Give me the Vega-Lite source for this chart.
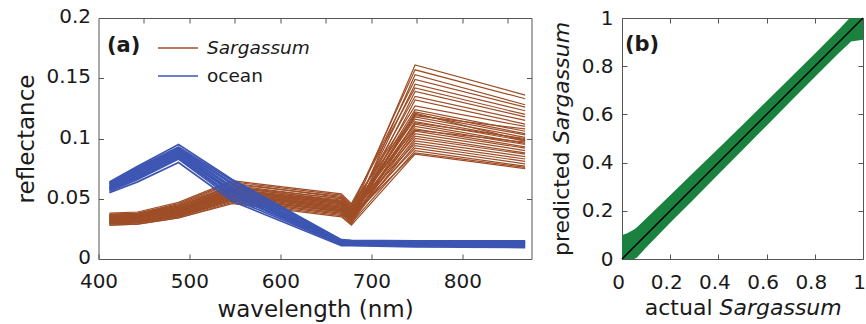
{
  "$schema": "https://vega.github.io/schema/vega-lite/v6.json",
  "padding": {"left": 14.5, "top": 6, "right": 0, "bottom": 0},
  "background": "white",
  "config": {
    "font": "DejaVu Sans",
    "view": {"stroke": "#555555", "strokeWidth": 1},
    "axis": {"grid": false, "domain": false, "tickColor": "#555555", "tickSize": -5, "tickWidth": 1, "labelFont": "DejaVu Sans", "labelFontSize": 20, "labelColor": "#1a1a1a", "titleFont": "DejaVu Sans", "titleColor": "#1a1a1a", "titleFontWeight": "normal", "titleFontSize": 23, "labelFlush": false, "labelOverlap": false, "labelBound": false},
    "text": {"font": "DejaVu Sans", "color": "#1a1a1a"}
  },
  "datasets": {
    "spectra": [
      {"c":"Sargassum","id":"s1","w":412,"r":0.033},{"c":"Sargassum","id":"s1","w":443,"r":0.034},{"c":"Sargassum","id":"s1","w":488,"r":0.040},{"c":"Sargassum","id":"s1","w":547,"r":0.056},{"c":"Sargassum","id":"s1","w":667,"r":0.046},{"c":"Sargassum","id":"s1","w":678,"r":0.038},{"c":"Sargassum","id":"s1","w":748,"r":0.161},{"c":"Sargassum","id":"s1","w":869,"r":0.136},
      {"c":"Sargassum","id":"s2","w":412,"r":0.036},{"c":"Sargassum","id":"s2","w":443,"r":0.037},{"c":"Sargassum","id":"s2","w":488,"r":0.044},{"c":"Sargassum","id":"s2","w":547,"r":0.060},{"c":"Sargassum","id":"s2","w":667,"r":0.050},{"c":"Sargassum","id":"s2","w":678,"r":0.042},{"c":"Sargassum","id":"s2","w":748,"r":0.157},{"c":"Sargassum","id":"s2","w":869,"r":0.133},
      {"c":"Sargassum","id":"s3","w":412,"r":0.030},{"c":"Sargassum","id":"s3","w":443,"r":0.031},{"c":"Sargassum","id":"s3","w":488,"r":0.037},{"c":"Sargassum","id":"s3","w":547,"r":0.052},{"c":"Sargassum","id":"s3","w":667,"r":0.041},{"c":"Sargassum","id":"s3","w":678,"r":0.034},{"c":"Sargassum","id":"s3","w":748,"r":0.153},{"c":"Sargassum","id":"s3","w":869,"r":0.128},
      {"c":"Sargassum","id":"s4","w":412,"r":0.035},{"c":"Sargassum","id":"s4","w":443,"r":0.036},{"c":"Sargassum","id":"s4","w":488,"r":0.043},{"c":"Sargassum","id":"s4","w":547,"r":0.062},{"c":"Sargassum","id":"s4","w":667,"r":0.052},{"c":"Sargassum","id":"s4","w":678,"r":0.044},{"c":"Sargassum","id":"s4","w":748,"r":0.149},{"c":"Sargassum","id":"s4","w":869,"r":0.126},
      {"c":"Sargassum","id":"s5","w":412,"r":0.032},{"c":"Sargassum","id":"s5","w":443,"r":0.033},{"c":"Sargassum","id":"s5","w":488,"r":0.039},{"c":"Sargassum","id":"s5","w":547,"r":0.054},{"c":"Sargassum","id":"s5","w":667,"r":0.044},{"c":"Sargassum","id":"s5","w":678,"r":0.036},{"c":"Sargassum","id":"s5","w":748,"r":0.145},{"c":"Sargassum","id":"s5","w":869,"r":0.123},
      {"c":"Sargassum","id":"s6","w":412,"r":0.038},{"c":"Sargassum","id":"s6","w":443,"r":0.039},{"c":"Sargassum","id":"s6","w":488,"r":0.047},{"c":"Sargassum","id":"s6","w":547,"r":0.065},{"c":"Sargassum","id":"s6","w":667,"r":0.054},{"c":"Sargassum","id":"s6","w":678,"r":0.046},{"c":"Sargassum","id":"s6","w":748,"r":0.142},{"c":"Sargassum","id":"s6","w":869,"r":0.120},
      {"c":"Sargassum","id":"s7","w":412,"r":0.031},{"c":"Sargassum","id":"s7","w":443,"r":0.032},{"c":"Sargassum","id":"s7","w":488,"r":0.038},{"c":"Sargassum","id":"s7","w":547,"r":0.050},{"c":"Sargassum","id":"s7","w":667,"r":0.040},{"c":"Sargassum","id":"s7","w":678,"r":0.033},{"c":"Sargassum","id":"s7","w":748,"r":0.139},{"c":"Sargassum","id":"s7","w":869,"r":0.118},
      {"c":"Sargassum","id":"s8","w":412,"r":0.034},{"c":"Sargassum","id":"s8","w":443,"r":0.035},{"c":"Sargassum","id":"s8","w":488,"r":0.042},{"c":"Sargassum","id":"s8","w":547,"r":0.058},{"c":"Sargassum","id":"s8","w":667,"r":0.048},{"c":"Sargassum","id":"s8","w":678,"r":0.040},{"c":"Sargassum","id":"s8","w":748,"r":0.135},{"c":"Sargassum","id":"s8","w":869,"r":0.115},
      {"c":"Sargassum","id":"s9","w":412,"r":0.029},{"c":"Sargassum","id":"s9","w":443,"r":0.030},{"c":"Sargassum","id":"s9","w":488,"r":0.035},{"c":"Sargassum","id":"s9","w":547,"r":0.048},{"c":"Sargassum","id":"s9","w":667,"r":0.037},{"c":"Sargassum","id":"s9","w":678,"r":0.031},{"c":"Sargassum","id":"s9","w":748,"r":0.132},{"c":"Sargassum","id":"s9","w":869,"r":0.112},
      {"c":"Sargassum","id":"s10","w":412,"r":0.036},{"c":"Sargassum","id":"s10","w":443,"r":0.037},{"c":"Sargassum","id":"s10","w":488,"r":0.045},{"c":"Sargassum","id":"s10","w":547,"r":0.063},{"c":"Sargassum","id":"s10","w":667,"r":0.051},{"c":"Sargassum","id":"s10","w":678,"r":0.043},{"c":"Sargassum","id":"s10","w":748,"r":0.127},{"c":"Sargassum","id":"s10","w":869,"r":0.110},
      {"c":"Sargassum","id":"s11","w":412,"r":0.033},{"c":"Sargassum","id":"s11","w":443,"r":0.034},{"c":"Sargassum","id":"s11","w":488,"r":0.041},{"c":"Sargassum","id":"s11","w":547,"r":0.057},{"c":"Sargassum","id":"s11","w":667,"r":0.047},{"c":"Sargassum","id":"s11","w":678,"r":0.039},{"c":"Sargassum","id":"s11","w":748,"r":0.124},{"c":"Sargassum","id":"s11","w":869,"r":0.106},
      {"c":"Sargassum","id":"s12","w":412,"r":0.030},{"c":"Sargassum","id":"s12","w":443,"r":0.031},{"c":"Sargassum","id":"s12","w":488,"r":0.036},{"c":"Sargassum","id":"s12","w":547,"r":0.051},{"c":"Sargassum","id":"s12","w":667,"r":0.039},{"c":"Sargassum","id":"s12","w":678,"r":0.032},{"c":"Sargassum","id":"s12","w":748,"r":0.122},{"c":"Sargassum","id":"s12","w":869,"r":0.104},
      {"c":"Sargassum","id":"s13","w":412,"r":0.037},{"c":"Sargassum","id":"s13","w":443,"r":0.038},{"c":"Sargassum","id":"s13","w":488,"r":0.046},{"c":"Sargassum","id":"s13","w":547,"r":0.064},{"c":"Sargassum","id":"s13","w":667,"r":0.053},{"c":"Sargassum","id":"s13","w":678,"r":0.045},{"c":"Sargassum","id":"s13","w":748,"r":0.120},{"c":"Sargassum","id":"s13","w":869,"r":0.103},
      {"c":"Sargassum","id":"s14","w":412,"r":0.032},{"c":"Sargassum","id":"s14","w":443,"r":0.033},{"c":"Sargassum","id":"s14","w":488,"r":0.040},{"c":"Sargassum","id":"s14","w":547,"r":0.055},{"c":"Sargassum","id":"s14","w":667,"r":0.045},{"c":"Sargassum","id":"s14","w":678,"r":0.037},{"c":"Sargassum","id":"s14","w":748,"r":0.118},{"c":"Sargassum","id":"s14","w":869,"r":0.101},
      {"c":"Sargassum","id":"s15","w":412,"r":0.035},{"c":"Sargassum","id":"s15","w":443,"r":0.036},{"c":"Sargassum","id":"s15","w":488,"r":0.043},{"c":"Sargassum","id":"s15","w":547,"r":0.059},{"c":"Sargassum","id":"s15","w":667,"r":0.049},{"c":"Sargassum","id":"s15","w":678,"r":0.041},{"c":"Sargassum","id":"s15","w":748,"r":0.116},{"c":"Sargassum","id":"s15","w":869,"r":0.099},
      {"c":"Sargassum","id":"s16","w":412,"r":0.028},{"c":"Sargassum","id":"s16","w":443,"r":0.029},{"c":"Sargassum","id":"s16","w":488,"r":0.034},{"c":"Sargassum","id":"s16","w":547,"r":0.047},{"c":"Sargassum","id":"s16","w":667,"r":0.036},{"c":"Sargassum","id":"s16","w":678,"r":0.029},{"c":"Sargassum","id":"s16","w":748,"r":0.114},{"c":"Sargassum","id":"s16","w":869,"r":0.098},
      {"c":"Sargassum","id":"s17","w":412,"r":0.034},{"c":"Sargassum","id":"s17","w":443,"r":0.035},{"c":"Sargassum","id":"s17","w":488,"r":0.042},{"c":"Sargassum","id":"s17","w":547,"r":0.057},{"c":"Sargassum","id":"s17","w":667,"r":0.046},{"c":"Sargassum","id":"s17","w":678,"r":0.038},{"c":"Sargassum","id":"s17","w":748,"r":0.112},{"c":"Sargassum","id":"s17","w":869,"r":0.096},
      {"c":"Sargassum","id":"s18","w":412,"r":0.031},{"c":"Sargassum","id":"s18","w":443,"r":0.032},{"c":"Sargassum","id":"s18","w":488,"r":0.038},{"c":"Sargassum","id":"s18","w":547,"r":0.053},{"c":"Sargassum","id":"s18","w":667,"r":0.042},{"c":"Sargassum","id":"s18","w":678,"r":0.035},{"c":"Sargassum","id":"s18","w":748,"r":0.110},{"c":"Sargassum","id":"s18","w":869,"r":0.095},
      {"c":"Sargassum","id":"s19","w":412,"r":0.037},{"c":"Sargassum","id":"s19","w":443,"r":0.038},{"c":"Sargassum","id":"s19","w":488,"r":0.045},{"c":"Sargassum","id":"s19","w":547,"r":0.061},{"c":"Sargassum","id":"s19","w":667,"r":0.050},{"c":"Sargassum","id":"s19","w":678,"r":0.042},{"c":"Sargassum","id":"s19","w":748,"r":0.108},{"c":"Sargassum","id":"s19","w":869,"r":0.093},
      {"c":"Sargassum","id":"s20","w":412,"r":0.033},{"c":"Sargassum","id":"s20","w":443,"r":0.034},{"c":"Sargassum","id":"s20","w":488,"r":0.040},{"c":"Sargassum","id":"s20","w":547,"r":0.054},{"c":"Sargassum","id":"s20","w":667,"r":0.043},{"c":"Sargassum","id":"s20","w":678,"r":0.036},{"c":"Sargassum","id":"s20","w":748,"r":0.106},{"c":"Sargassum","id":"s20","w":869,"r":0.092},
      {"c":"Sargassum","id":"s21","w":412,"r":0.030},{"c":"Sargassum","id":"s21","w":443,"r":0.031},{"c":"Sargassum","id":"s21","w":488,"r":0.037},{"c":"Sargassum","id":"s21","w":547,"r":0.050},{"c":"Sargassum","id":"s21","w":667,"r":0.039},{"c":"Sargassum","id":"s21","w":678,"r":0.032},{"c":"Sargassum","id":"s21","w":748,"r":0.104},{"c":"Sargassum","id":"s21","w":869,"r":0.090},
      {"c":"Sargassum","id":"s22","w":412,"r":0.035},{"c":"Sargassum","id":"s22","w":443,"r":0.036},{"c":"Sargassum","id":"s22","w":488,"r":0.044},{"c":"Sargassum","id":"s22","w":547,"r":0.060},{"c":"Sargassum","id":"s22","w":667,"r":0.048},{"c":"Sargassum","id":"s22","w":678,"r":0.040},{"c":"Sargassum","id":"s22","w":748,"r":0.102},{"c":"Sargassum","id":"s22","w":869,"r":0.088},
      {"c":"Sargassum","id":"s23","w":412,"r":0.032},{"c":"Sargassum","id":"s23","w":443,"r":0.033},{"c":"Sargassum","id":"s23","w":488,"r":0.039},{"c":"Sargassum","id":"s23","w":547,"r":0.052},{"c":"Sargassum","id":"s23","w":667,"r":0.041},{"c":"Sargassum","id":"s23","w":678,"r":0.034},{"c":"Sargassum","id":"s23","w":748,"r":0.100},{"c":"Sargassum","id":"s23","w":869,"r":0.087},
      {"c":"Sargassum","id":"s24","w":412,"r":0.029},{"c":"Sargassum","id":"s24","w":443,"r":0.030},{"c":"Sargassum","id":"s24","w":488,"r":0.035},{"c":"Sargassum","id":"s24","w":547,"r":0.049},{"c":"Sargassum","id":"s24","w":667,"r":0.038},{"c":"Sargassum","id":"s24","w":678,"r":0.031},{"c":"Sargassum","id":"s24","w":748,"r":0.098},{"c":"Sargassum","id":"s24","w":869,"r":0.085},
      {"c":"Sargassum","id":"s25","w":412,"r":0.036},{"c":"Sargassum","id":"s25","w":443,"r":0.037},{"c":"Sargassum","id":"s25","w":488,"r":0.044},{"c":"Sargassum","id":"s25","w":547,"r":0.058},{"c":"Sargassum","id":"s25","w":667,"r":0.047},{"c":"Sargassum","id":"s25","w":678,"r":0.039},{"c":"Sargassum","id":"s25","w":748,"r":0.096},{"c":"Sargassum","id":"s25","w":869,"r":0.083},
      {"c":"Sargassum","id":"s26","w":412,"r":0.031},{"c":"Sargassum","id":"s26","w":443,"r":0.032},{"c":"Sargassum","id":"s26","w":488,"r":0.038},{"c":"Sargassum","id":"s26","w":547,"r":0.051},{"c":"Sargassum","id":"s26","w":667,"r":0.040},{"c":"Sargassum","id":"s26","w":678,"r":0.033},{"c":"Sargassum","id":"s26","w":748,"r":0.094},{"c":"Sargassum","id":"s26","w":869,"r":0.081},
      {"c":"Sargassum","id":"s27","w":412,"r":0.034},{"c":"Sargassum","id":"s27","w":443,"r":0.035},{"c":"Sargassum","id":"s27","w":488,"r":0.041},{"c":"Sargassum","id":"s27","w":547,"r":0.055},{"c":"Sargassum","id":"s27","w":667,"r":0.044},{"c":"Sargassum","id":"s27","w":678,"r":0.036},{"c":"Sargassum","id":"s27","w":748,"r":0.092},{"c":"Sargassum","id":"s27","w":869,"r":0.079},
      {"c":"Sargassum","id":"s28","w":412,"r":0.030},{"c":"Sargassum","id":"s28","w":443,"r":0.031},{"c":"Sargassum","id":"s28","w":488,"r":0.036},{"c":"Sargassum","id":"s28","w":547,"r":0.049},{"c":"Sargassum","id":"s28","w":667,"r":0.038},{"c":"Sargassum","id":"s28","w":678,"r":0.030},{"c":"Sargassum","id":"s28","w":748,"r":0.090},{"c":"Sargassum","id":"s28","w":869,"r":0.077},
      {"c":"Sargassum","id":"s29","w":412,"r":0.033},{"c":"Sargassum","id":"s29","w":443,"r":0.034},{"c":"Sargassum","id":"s29","w":488,"r":0.040},{"c":"Sargassum","id":"s29","w":547,"r":0.053},{"c":"Sargassum","id":"s29","w":667,"r":0.042},{"c":"Sargassum","id":"s29","w":678,"r":0.035},{"c":"Sargassum","id":"s29","w":748,"r":0.088},{"c":"Sargassum","id":"s29","w":869,"r":0.076},
      {"c":"Sargassum","id":"s30","w":412,"r":0.028},{"c":"Sargassum","id":"s30","w":443,"r":0.029},{"c":"Sargassum","id":"s30","w":488,"r":0.034},{"c":"Sargassum","id":"s30","w":547,"r":0.046},{"c":"Sargassum","id":"s30","w":667,"r":0.035},{"c":"Sargassum","id":"s30","w":678,"r":0.028},{"c":"Sargassum","id":"s30","w":748,"r":0.087},{"c":"Sargassum","id":"s30","w":869,"r":0.075},
      {"c":"Sargassum","id":"s31","w":412,"r":0.032},{"c":"Sargassum","id":"s31","w":443,"r":0.033},{"c":"Sargassum","id":"s31","w":488,"r":0.039},{"c":"Sargassum","id":"s31","w":547,"r":0.053},{"c":"Sargassum","id":"s31","w":667,"r":0.043},{"c":"Sargassum","id":"s31","w":678,"r":0.036},{"c":"Sargassum","id":"s31","w":748,"r":0.119},{"c":"Sargassum","id":"s31","w":869,"r":0.108},
      {"c":"Sargassum","id":"s32","w":412,"r":0.035},{"c":"Sargassum","id":"s32","w":443,"r":0.036},{"c":"Sargassum","id":"s32","w":488,"r":0.042},{"c":"Sargassum","id":"s32","w":547,"r":0.058},{"c":"Sargassum","id":"s32","w":667,"r":0.047},{"c":"Sargassum","id":"s32","w":678,"r":0.039},{"c":"Sargassum","id":"s32","w":748,"r":0.113},{"c":"Sargassum","id":"s32","w":869,"r":0.100},
      {"c":"Sargassum","id":"s33","w":412,"r":0.030},{"c":"Sargassum","id":"s33","w":443,"r":0.031},{"c":"Sargassum","id":"s33","w":488,"r":0.036},{"c":"Sargassum","id":"s33","w":547,"r":0.050},{"c":"Sargassum","id":"s33","w":667,"r":0.040},{"c":"Sargassum","id":"s33","w":678,"r":0.033},{"c":"Sargassum","id":"s33","w":748,"r":0.107},{"c":"Sargassum","id":"s33","w":869,"r":0.097},
      {"c":"Sargassum","id":"s34","w":412,"r":0.034},{"c":"Sargassum","id":"s34","w":443,"r":0.035},{"c":"Sargassum","id":"s34","w":488,"r":0.041},{"c":"Sargassum","id":"s34","w":547,"r":0.056},{"c":"Sargassum","id":"s34","w":667,"r":0.045},{"c":"Sargassum","id":"s34","w":678,"r":0.037},{"c":"Sargassum","id":"s34","w":748,"r":0.121},{"c":"Sargassum","id":"s34","w":869,"r":0.098},
      {"c":"ocean","id":"o1","w":412,"r":0.055},{"c":"ocean","id":"o1","w":443,"r":0.064},{"c":"ocean","id":"o1","w":488,"r":0.080},{"c":"ocean","id":"o1","w":547,"r":0.048},{"c":"ocean","id":"o1","w":667,"r":0.011},{"c":"ocean","id":"o1","w":678,"r":0.011},{"c":"ocean","id":"o1","w":748,"r":0.010},{"c":"ocean","id":"o1","w":869,"r":0.0095},
      {"c":"ocean","id":"o2","w":412,"r":0.056},{"c":"ocean","id":"o2","w":443,"r":0.066},{"c":"ocean","id":"o2","w":488,"r":0.083},{"c":"ocean","id":"o2","w":547,"r":0.050},{"c":"ocean","id":"o2","w":667,"r":0.012},{"c":"ocean","id":"o2","w":678,"r":0.0115},{"c":"ocean","id":"o2","w":748,"r":0.011},{"c":"ocean","id":"o2","w":869,"r":0.010},
      {"c":"ocean","id":"o3","w":412,"r":0.057},{"c":"ocean","id":"o3","w":443,"r":0.067},{"c":"ocean","id":"o3","w":488,"r":0.084},{"c":"ocean","id":"o3","w":547,"r":0.052},{"c":"ocean","id":"o3","w":667,"r":0.0125},{"c":"ocean","id":"o3","w":678,"r":0.012},{"c":"ocean","id":"o3","w":748,"r":0.0115},{"c":"ocean","id":"o3","w":869,"r":0.0105},
      {"c":"ocean","id":"o4","w":412,"r":0.058},{"c":"ocean","id":"o4","w":443,"r":0.068},{"c":"ocean","id":"o4","w":488,"r":0.085},{"c":"ocean","id":"o4","w":547,"r":0.053},{"c":"ocean","id":"o4","w":667,"r":0.013},{"c":"ocean","id":"o4","w":678,"r":0.0125},{"c":"ocean","id":"o4","w":748,"r":0.012},{"c":"ocean","id":"o4","w":869,"r":0.011},
      {"c":"ocean","id":"o5","w":412,"r":0.058},{"c":"ocean","id":"o5","w":443,"r":0.069},{"c":"ocean","id":"o5","w":488,"r":0.086},{"c":"ocean","id":"o5","w":547,"r":0.055},{"c":"ocean","id":"o5","w":667,"r":0.013},{"c":"ocean","id":"o5","w":678,"r":0.013},{"c":"ocean","id":"o5","w":748,"r":0.0125},{"c":"ocean","id":"o5","w":869,"r":0.0115},
      {"c":"ocean","id":"o6","w":412,"r":0.059},{"c":"ocean","id":"o6","w":443,"r":0.070},{"c":"ocean","id":"o6","w":488,"r":0.087},{"c":"ocean","id":"o6","w":547,"r":0.056},{"c":"ocean","id":"o6","w":667,"r":0.0135},{"c":"ocean","id":"o6","w":678,"r":0.013},{"c":"ocean","id":"o6","w":748,"r":0.0125},{"c":"ocean","id":"o6","w":869,"r":0.012},
      {"c":"ocean","id":"o7","w":412,"r":0.060},{"c":"ocean","id":"o7","w":443,"r":0.071},{"c":"ocean","id":"o7","w":488,"r":0.088},{"c":"ocean","id":"o7","w":547,"r":0.057},{"c":"ocean","id":"o7","w":667,"r":0.014},{"c":"ocean","id":"o7","w":678,"r":0.0135},{"c":"ocean","id":"o7","w":748,"r":0.013},{"c":"ocean","id":"o7","w":869,"r":0.0125},
      {"c":"ocean","id":"o8","w":412,"r":0.060},{"c":"ocean","id":"o8","w":443,"r":0.072},{"c":"ocean","id":"o8","w":488,"r":0.089},{"c":"ocean","id":"o8","w":547,"r":0.059},{"c":"ocean","id":"o8","w":667,"r":0.014},{"c":"ocean","id":"o8","w":678,"r":0.014},{"c":"ocean","id":"o8","w":748,"r":0.0135},{"c":"ocean","id":"o8","w":869,"r":0.013},
      {"c":"ocean","id":"o9","w":412,"r":0.061},{"c":"ocean","id":"o9","w":443,"r":0.073},{"c":"ocean","id":"o9","w":488,"r":0.090},{"c":"ocean","id":"o9","w":547,"r":0.060},{"c":"ocean","id":"o9","w":667,"r":0.0145},{"c":"ocean","id":"o9","w":678,"r":0.014},{"c":"ocean","id":"o9","w":748,"r":0.014},{"c":"ocean","id":"o9","w":869,"r":0.0135},
      {"c":"ocean","id":"o10","w":412,"r":0.062},{"c":"ocean","id":"o10","w":443,"r":0.074},{"c":"ocean","id":"o10","w":488,"r":0.091},{"c":"ocean","id":"o10","w":547,"r":0.062},{"c":"ocean","id":"o10","w":667,"r":0.015},{"c":"ocean","id":"o10","w":678,"r":0.0145},{"c":"ocean","id":"o10","w":748,"r":0.014},{"c":"ocean","id":"o10","w":869,"r":0.014},
      {"c":"ocean","id":"o11","w":412,"r":0.062},{"c":"ocean","id":"o11","w":443,"r":0.075},{"c":"ocean","id":"o11","w":488,"r":0.092},{"c":"ocean","id":"o11","w":547,"r":0.063},{"c":"ocean","id":"o11","w":667,"r":0.015},{"c":"ocean","id":"o11","w":678,"r":0.015},{"c":"ocean","id":"o11","w":748,"r":0.0145},{"c":"ocean","id":"o11","w":869,"r":0.014},
      {"c":"ocean","id":"o12","w":412,"r":0.063},{"c":"ocean","id":"o12","w":443,"r":0.076},{"c":"ocean","id":"o12","w":488,"r":0.093},{"c":"ocean","id":"o12","w":547,"r":0.065},{"c":"ocean","id":"o12","w":667,"r":0.0155},{"c":"ocean","id":"o12","w":678,"r":0.015},{"c":"ocean","id":"o12","w":748,"r":0.015},{"c":"ocean","id":"o12","w":869,"r":0.0145},
      {"c":"ocean","id":"o13","w":412,"r":0.064},{"c":"ocean","id":"o13","w":443,"r":0.077},{"c":"ocean","id":"o13","w":488,"r":0.095},{"c":"ocean","id":"o13","w":547,"r":0.066},{"c":"ocean","id":"o13","w":667,"r":0.016},{"c":"ocean","id":"o13","w":678,"r":0.0155},{"c":"ocean","id":"o13","w":748,"r":0.015},{"c":"ocean","id":"o13","w":869,"r":0.015}
    ],
    "band": [
      {"a":0,"lo":0,"hi":0.1},
      {"a":0.02,"lo":0,"hi":0.106},
      {"a":0.05,"lo":0,"hi":0.122},
      {"a":0.06,"lo":0.004,"hi":0.13},
      {"a":0.1,"lo":0.048,"hi":0.168},
      {"a":0.2,"lo":0.15,"hi":0.265},
      {"a":0.3,"lo":0.25,"hi":0.362},
      {"a":0.4,"lo":0.352,"hi":0.458},
      {"a":0.5,"lo":0.452,"hi":0.556},
      {"a":0.6,"lo":0.553,"hi":0.655},
      {"a":0.7,"lo":0.655,"hi":0.753},
      {"a":0.8,"lo":0.755,"hi":0.852},
      {"a":0.9,"lo":0.855,"hi":0.952},
      {"a":0.94,"lo":0.892,"hi":0.995},
      {"a":0.95,"lo":0.902,"hi":1},
      {"a":1,"lo":0.91,"hi":1}
    ],
    "diag": [{"a":0,"p":0},{"a":1,"p":1}]
  },
  "hconcat": [
    {
      "width": 433,
      "height": 241,
      "data": {"name": "spectra"},
      "layer": [
        {
          "transform": [{"filter": "datum.c === 'Sargassum'"}],
          "mark": {"type": "line", "strokeWidth": 1.2, "clip": true},
          "encoding": {
            "x": {"field": "w", "type": "quantitative", "scale": {"domain": [400, 876], "nice": false, "zero": false},
                  "axis": {"orient": "bottom", "values": [400, 500, 600, 700, 800], "labelPadding": 17, "title": "wavelength (nm)", "titleY": 57, "titleBaseline": "alphabetic"}},
            "y": {"field": "r", "type": "quantitative", "scale": {"domain": [0, 0.2], "nice": false, "zero": true},
                  "axis": {"orient": "left", "values": [0, 0.05, 0.1, 0.15, 0.2], "labelExpr": "toString(datum.value)", "labelPadding": 13, "labelOffset": -1.5, "title": "reflectance", "titleX": -65, "titleBaseline": "alphabetic", "titleAngle": -90}},
            "color": {"field": "c", "type": "nominal", "scale": {"domain": ["Sargassum", "ocean"], "range": ["#9E4E27", "#3D55B2"]},
                      "legend": {"orient": "none", "legendX": 58.5, "legendY": 16, "title": null, "symbolType": "stroke", "symbolSize": 1600, "symbolStrokeWidth": 1.3, "clipHeight": 28, "rowPadding": 0, "labelOffset": 8, "labelFontSize": 18.5, "labelFont": "DejaVu Sans", "labelColor": "#1a1a1a",
                                 "encode": {"labels": {"update": {"fontStyle": {"signal": "datum.label === 'Sargassum' ? 'italic' : 'normal'"}}}}}},
            "detail": {"field": "id"}
          }
        },
        {
          "transform": [{"filter": "datum.c === 'ocean'"}],
          "mark": {"type": "line", "strokeWidth": 1.7, "clip": true},
          "encoding": {
            "x": {"field": "w", "type": "quantitative", "axis": {"orient": "top", "values": [450, 500, 550, 600, 650, 700, 750, 800, 850], "labels": false, "title": null}},
            "y": {"field": "r", "type": "quantitative", "axis": {"orient": "right", "values": [0.05, 0.1, 0.15], "labels": false, "title": null}},
            "color": {"field": "c", "type": "nominal"},
            "detail": {"field": "id"}
          }
        },
        {
          "data": {"values": [{"label": "(a)"}]},
          "mark": {"type": "text", "fontWeight": "bold", "fontSize": 21, "align": "left", "baseline": "middle"},
          "encoding": {
            "x": {"datum": 409.3, "type": "quantitative", "axis": null},
            "y": {"datum": 0.177, "type": "quantitative", "axis": null},
            "text": {"field": "label"}
          }
        }
      ],
      "resolve": {"axis": {"x": "independent", "y": "independent"}}
    },
    {
      "width": 241,
      "height": 241,
      "layer": [
        {
          "data": {"name": "band"},
          "mark": {"type": "area", "color": "#1A823E", "clip": true},
          "encoding": {
            "x": {"field": "a", "type": "quantitative", "scale": {"domain": [0, 1], "nice": false},
                  "axis": {"orient": "bottom", "values": [0, 0.2, 0.4, 0.6, 0.8, 1], "labelExpr": "toString(datum.value)", "labelPadding": 18, "labelOffset": -4, "title": "actual", "titleFontSize": 22, "titleX": 90, "titleAlign": "right", "titleY": 55, "titleBaseline": "alphabetic"}},
            "y": {"field": "lo", "type": "quantitative", "scale": {"domain": [0, 1], "nice": false},
                  "axis": {"orient": "left", "values": [0, 0.2, 0.4, 0.6, 0.8, 1], "labelExpr": "toString(datum.value)", "labelPadding": 14, "title": "predicted", "titleFontSize": 22, "titleX": -54, "titleY": 237.5, "titleAlign": "left", "titleAngle": -90, "titleBaseline": "alphabetic"}},
            "y2": {"field": "hi"}
          }
        },
        {
          "data": {"name": "diag"},
          "mark": {"type": "line", "color": "black", "strokeWidth": 1.5},
          "encoding": {
            "x": {"field": "a", "type": "quantitative", "axis": {"orient": "top", "values": [0.2, 0.4, 0.6, 0.8], "labels": false, "title": null}},
            "y": {"field": "p", "type": "quantitative", "axis": {"orient": "right", "values": [0.2, 0.4, 0.6, 0.8], "labels": false, "title": null}}
          }
        },
        {
          "data": {"values": [{"label": "(b)"}]},
          "mark": {"type": "text", "fontWeight": "bold", "fontSize": 21, "align": "left", "baseline": "middle"},
          "encoding": {
            "x": {"datum": 0.012, "type": "quantitative", "axis": {"orient": "bottom", "labels": false, "ticks": false, "title": "Sargassum", "titleFontStyle": "italic", "titleFontSize": 22, "titleX": 97, "titleAlign": "left", "titleY": 55, "titleBaseline": "alphabetic"}},
            "y": {"datum": 0.888, "type": "quantitative", "axis": {"orient": "left", "labels": false, "ticks": false, "title": "Sargassum", "titleFontStyle": "italic", "titleFontSize": 22, "titleX": -54, "titleY": 125.6, "titleAlign": "left", "titleAngle": -90, "titleBaseline": "alphabetic"}},
            "text": {"field": "label"}
          }
        }
      ],
      "resolve": {"axis": {"x": "independent", "y": "independent"}}
    }
  ],
  "spacing": 90.5,
  "bounds": "flush",
  "resolve": {"scale": {"color": "independent"}, "legend": {"color": "independent"}}
}
